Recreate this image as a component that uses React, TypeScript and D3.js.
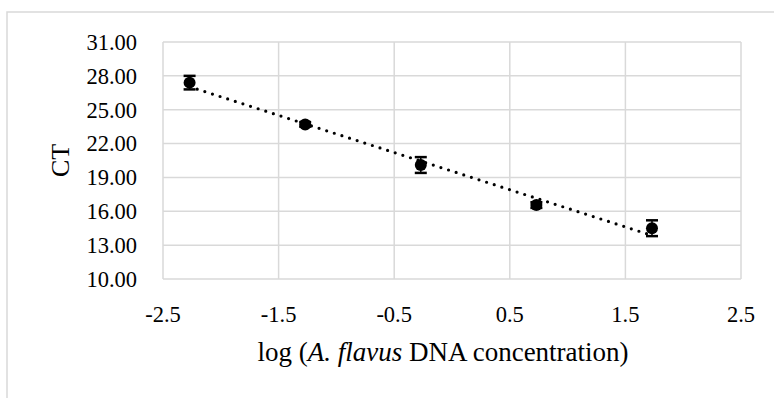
import * as d3 from 'd3';

// log10 of DNA concentration vs. mean CT, with standard deviation
const logConc = [-2.27, -1.27, -0.27, 0.73, 1.73];
const ctMean = [27.4, 23.7, 20.1, 16.55, 14.5];
const ctErr = [0.6, 0.2, 0.7, 0.25, 0.7];

const xTicks = [-2.5, -1.5, -0.5, 0.5, 1.5, 2.5];
const yTicks = [10, 13, 16, 19, 22, 25, 28, 31];

const W = 774;
const H = 398;
const FONT = '"Liberation Serif", serif';

export default function App() {
  const margin = { top: 42, right: 33, bottom: 119, left: 163 };
  const x = d3.scaleLinear().domain([-2.5, 2.5]).range([margin.left, W - margin.right]);
  const y = d3.scaleLinear().domain([10, 31]).range([H - margin.bottom, margin.top]);

  // least-squares trend line
  const mx = d3.mean(logConc)!;
  const my = d3.mean(ctMean)!;
  const slope =
    d3.sum(logConc, (v, i) => (v - mx) * (ctMean[i] - my)) / d3.sum(logConc, v => (v - mx) ** 2);
  const icpt = my - slope * mx;
  const x0 = d3.min(logConc)!;
  const x1 = d3.max(logConc)!;
  const trend = d3.line<number>().x(v => x(v)).y(v => y(icpt + slope * v))([x0, x1]);

  const grid = '#d9d9d9';

  return (
    <svg width={W} height={H} style={{ position: 'absolute', left: 0, top: 0, background: '#fff' }} fontFamily={FONT}>
      <rect x={7} y={12} width={W} height={H} fill="none" stroke={grid} strokeWidth={1.5} />

      {yTicks.map(t => (
        <line key={'gy' + t} x1={x(-2.5)} x2={x(2.5)} y1={y(t)} y2={y(t)} stroke={grid} strokeWidth={1.5} />
      ))}
      {xTicks.map(t => (
        <line key={'gx' + t} x1={x(t)} x2={x(t)} y1={y(10)} y2={y(31)} stroke={grid} strokeWidth={1.5} />
      ))}

      {yTicks.map(t => (
        <text key={'ty' + t} x={137} y={y(t)} dy="0.35em" textAnchor="end" fontSize={22.5} fill="#000">
          {t.toFixed(2)}
        </text>
      ))}
      {xTicks.map(t => (
        <text key={'tx' + t} x={x(t)} y={322} textAnchor="middle" fontSize={22.5} fill="#000">
          {t.toFixed(1)}
        </text>
      ))}

      <path d={trend ?? ''} fill="none" stroke="#000" strokeWidth={3.2} strokeLinecap="round" strokeDasharray="0 8" />

      {logConc.map((v, i) => (
        <g key={'p' + i}>
          <line x1={x(v)} x2={x(v)} y1={y(ctMean[i] - ctErr[i])} y2={y(ctMean[i] + ctErr[i])} stroke="#000" strokeWidth={1.5} />
          <line x1={x(v) - 6} x2={x(v) + 6} y1={y(ctMean[i] - ctErr[i])} y2={y(ctMean[i] - ctErr[i])} stroke="#000" strokeWidth={2.5} />
          <line x1={x(v) - 6} x2={x(v) + 6} y1={y(ctMean[i] + ctErr[i])} y2={y(ctMean[i] + ctErr[i])} stroke="#000" strokeWidth={2.5} />
          <circle cx={x(v)} cy={y(ctMean[i])} r={6} fill="#000" />
        </g>
      ))}

      <text x={443} y={361} textAnchor="middle" fontSize={27} fill="#000">
        log (<tspan fontStyle="italic">A. flavus</tspan> DNA concentration)
      </text>
      <text transform={`translate(69,${(y(10) + y(31)) / 2}) rotate(-90)`} textAnchor="middle" fontSize={26} fill="#000">
        CT
      </text>
    </svg>
  );
}
